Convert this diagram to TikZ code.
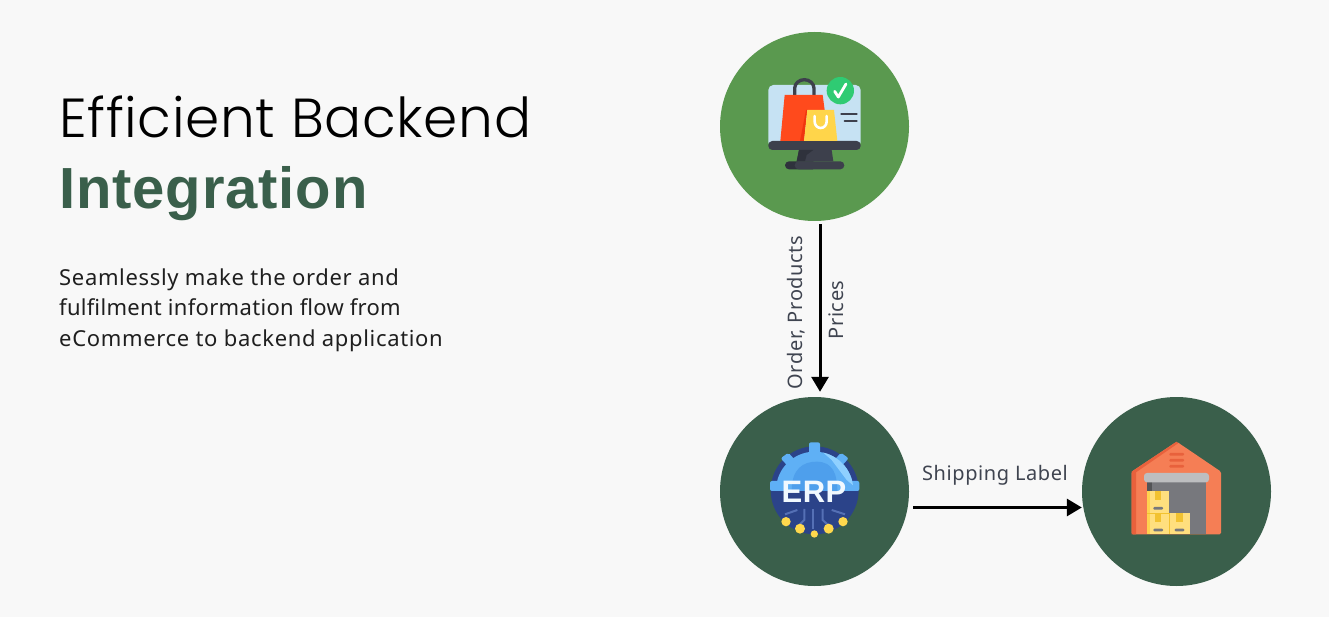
\documentclass[tikz,border=0pt]{standalone}
\usepackage{fontspec}
\setmainfont{Noto Sans}[LetterSpace=3]
\newfontfamily\titlefont{Poppins Light}[LetterSpace=1.2]
\newfontfamily\boldfont{Liberation Sans}[LetterSpace=1.5]
\newfontfamily\tightfont{Noto Sans}[LetterSpace=1.4]
\usetikzlibrary{arrows.meta}
\definecolor{bgc}{HTML}{F8F8F8}
\definecolor{lightgreen}{HTML}{5A994F}
\definecolor{darkgreen}{HTML}{3A5F4B}
\definecolor{labelc}{HTML}{3F4450}
\definecolor{mon}{HTML}{C6E2F3}
\definecolor{mondark}{HTML}{3D404C}
\definecolor{mondarker}{HTML}{2F323C}
\definecolor{bagred}{HTML}{FF4A1C}
\definecolor{bagred2}{HTML}{F0350F}
\definecolor{bagyel}{HTML}{FFD54A}
\definecolor{chk}{HTML}{2FCB73}
\definecolor{erpnavy}{HTML}{2B4389}
\definecolor{erpblue}{HTML}{5FB0F5}
\definecolor{erplight}{HTML}{8FD0FF}
\definecolor{erpmid}{HTML}{4A9BEA}
\definecolor{erpline}{HTML}{5570B5}
\definecolor{erpgold}{HTML}{FFD84D}
\definecolor{wall}{HTML}{F57E55}
\definecolor{wall2}{HTML}{E8613C}
\definecolor{shutter}{HTML}{BDBEC0}
\definecolor{door}{HTML}{77787D}
\definecolor{boxc}{HTML}{FFDF7E}
\definecolor{boxs}{HTML}{FFD24F}
\definecolor{boxd}{HTML}{F2C230}
\tikzset{
  hub/.style={circle,draw=none,minimum size=189pt,inner sep=0pt},
  flow/.style={line width=3pt,-{Triangle[length=15pt,width=17pt]},black},
  flowlabel/.style={inner sep=0pt,text=labelc,font=\fontsize{20}{24}\selectfont},
  bodytext/.style={inner sep=0pt,anchor=base west,text=black!88,font=\fontsize{22}{26}\selectfont}
}
\begin{document}
\begin{tikzpicture}[x=1pt,y=-1pt]
\useasboundingbox (0,0) rectangle (1329,617);
\fill[bgc] (0,0) rectangle (1329,617);
\node[inner sep=0pt,anchor=base west,font=\titlefont\fontsize{55}{60}\selectfont] (title) at (59,138) {Efficient Backend};
\node[inner sep=0pt,anchor=base west,text=darkgreen,font=\boldfont\bfseries\fontsize{58}{62}\selectfont] (title2) at (59,208.5) {Integration};
\node[bodytext] (b1) at (59,285.5) {Seamlessly make the order and};
\node[bodytext,font=\tightfont\fontsize{22}{26}\selectfont] (b2) at (59,315.5) {fulfilment information flow from};
\node[bodytext] (b3) at (59,346) {eCommerce to backend application};
\node[hub,fill=lightgreen] (shop) at (814.5,126.5) {};
\node[hub,fill=darkgreen] (erp) at (814.5,491.5) {};
\node[hub,fill=darkgreen] (wh) at (1176.5,491.5) {};
\draw[flow] ([xshift=5.5pt,yshift=-3pt]shop.south) -- ([xshift=5.5pt,yshift=5pt]erp.north);
\draw[flow] ([xshift=4pt,yshift=-16pt]erp.east) -- ([xshift=0pt,yshift=-16pt]wh.west);
\node[flowlabel,rotate=90,anchor=base] (l1) at (802,312.5) {Order, Products};
\node[flowlabel,rotate=90,anchor=base] (l2) at (843.5,310) {Prices};
\node[flowlabel,anchor=base] (l3) at (995,480.5) {Shipping Label};
% shop icon
\begin{scope}[shift={(750,60)},x=0.3333pt,y=-0.3333pt]
\fill[mon,rounded corners=5pt] (55,75) rectangle (332,262);
\fill[mondark,rounded corners=4pt] (55,243) -- (332,243) -- (332,270) -- (55,270) -- cycle;
\fill[mondark] (147,270) -- (245,270) -- (250,304) -- (140,304) -- cycle;
\fill[mondarker] (147,270) -- (190,270) -- (170,285) -- (165,304) -- (140,304) -- cycle;
\fill[mondarker,rounded corners=4pt] (105,304) rectangle (200,328);
\fill[mondark,rounded corners=4pt] (134,304) rectangle (283,328);
\draw[mondark,line width=3.3pt,line cap=round] (134,120) -- (134,85) arc[start angle=180,end angle=0,x radius=29,y radius=-26] -- (192,120);
\fill[bagred] (104,105) -- (218,105) -- (224,150) -- (170,150) -- (162,243) -- (91,243) -- cycle;
\fill[bagred2] (168,150) -- (172,150) -- (162,243) -- (150,243) -- cycle;
\fill[bagyel] (172,150) -- (252,150) -- (262,243) -- (162,243) -- cycle;
\draw[white,line width=2.6pt,line cap=round] (194,168) -- (194,185) arc[start angle=180,end angle=360,x radius=18,y radius=-19] -- (230,168);
\fill[chk] (271,92) circle[radius=41];
\draw[white,line width=2.8pt,line cap=round,line join=round] (254,94) -- (265,111) -- (288,72);
\draw[mondark,line width=2.3pt,line cap=round] (274,161) -- (320,161);
\draw[mondark,line width=2.3pt,line cap=round] (284,183) -- (320,183);
\end{scope}
% ERP icon
\begin{scope}[shift={(750,425)},x=0.3333pt,y=-0.3333pt]
\fill[erpnavy] (194,196) circle[radius=132];
\begin{scope}
\clip (40,40) rectangle (350,198);
\fill[erpblue] (194,196) circle[radius=116];
\end{scope}
\fill[erpblue,rounded corners=2pt] (177,52) rectangle (210,90);
\fill[erpblue,rounded corners=2pt] (60,168) rectangle (328,198);
\fill[erpblue,rounded corners=2pt] (92,100) -- (115,83) -- (135,105) -- (115,125) -- cycle;
\fill[erpblue,rounded corners=2pt] (296,100) -- (273,83) -- (253,105) -- (273,125) -- cycle;
\begin{scope}
\clip (194,196) circle[radius=116];
\fill[erplight] (205,70) -- (320,70) -- (320,190) -- (290,165) -- (245,105) -- cycle;
\fill[erpmid!80!erpblue] (125,198) .. controls (125,130) and (160,110) .. (200,110) .. controls (250,110) and (262,150) .. (262,198) -- cycle;
\end{scope}
\node[inner sep=0pt,text=white!88!erplight,font=\boldfont\bfseries\fontsize{31}{34}\selectfont] (erptext) at (192,201) {ERP};
\begin{scope}[erpline,line width=2pt]
\draw (190,252) -- (190,312);
\draw (163,252) -- (163,285) -- (150,298);
\draw (218,252) -- (218,285) -- (232,298);
\draw (142,255) -- (105,268);
\draw (245,255) -- (285,268);
\end{scope}
\fill[erpgold] (108,290) circle[radius=14];
\fill[erpgold] (150,311) circle[radius=15];
\fill[erpgold] (236,311) circle[radius=15];
\fill[erpgold] (279,290) circle[radius=14];
\fill[erpgold] (193,327) circle[radius=11];
\end{scope}
% warehouse icon
\begin{scope}[shift={(1110,425)},x=0.3333pt,y=-0.3333pt]
\fill[wall,rounded corners=1.5pt] (200,50) -- (333,140) -- (333,328) -- (65,328) -- (65,140) -- cycle;
\fill[wall2] (200,50) -- (204,55) -- (78,142) -- (78,328) -- (65,328) -- (65,140) -- cycle;
\fill[door] (112,165) rectangle (287,328);
\fill[door!70!black] (112,165) rectangle (126,200);
\fill[shutter,rounded corners=3pt] (102,144) rectangle (297,172);
\foreach \yy in {88,106,124}{\fill[wall2,rounded corners=1pt] (178,\yy-4) rectangle (222,\yy+4);}
\fill[boxc] (112,198) rectangle (177,264);
\fill[boxc] (112,264) rectangle (177,328);
\fill[boxc] (177,264) rectangle (241,328);
\fill[boxd] (135,198) rectangle (154,226);
\fill[boxd] (135,264) rectangle (154,292);
\fill[boxd] (199,264) rectangle (218,292);
\fill[boxs] (112,198) rectangle (120,328);
\draw[boxd,line width=0.8pt] (112,264) -- (177,264) -- (177,328);
\fill[door,rounded corners=1pt] (130,246) rectangle (159,254);
\fill[door,rounded corners=1pt] (130,311) rectangle (159,319);
\fill[door,rounded corners=1pt] (194,311) rectangle (223,319);
\end{scope}
\end{tikzpicture}
\end{document}
